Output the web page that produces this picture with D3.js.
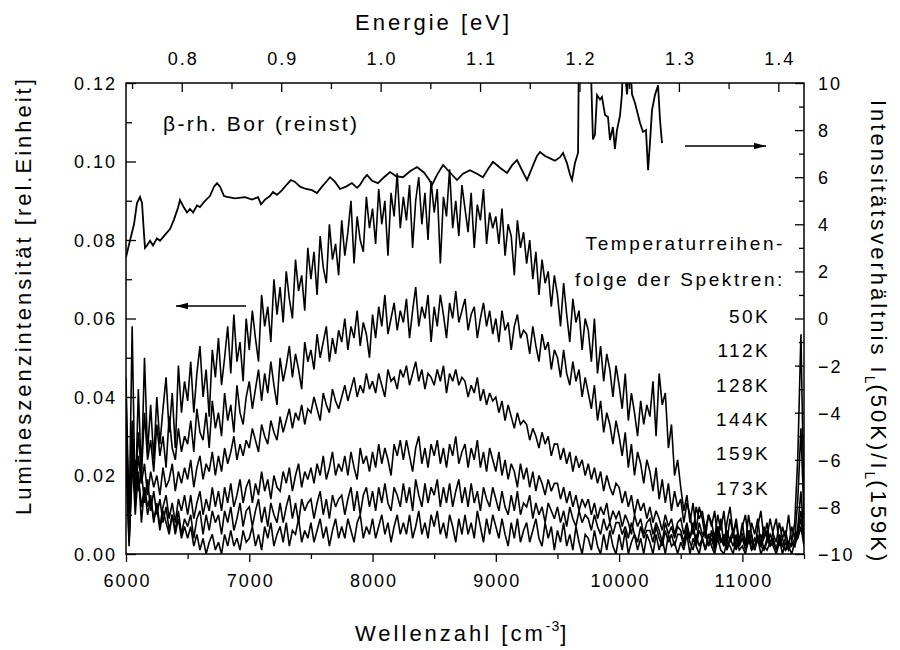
<!DOCTYPE html>
<html><head><meta charset="utf-8">
<script src="https://cdn.jsdelivr.net/npm/d3@7"></script>
<style>
body{margin:0;background:#fff}
svg{display:block}
text{font-family:"Liberation Sans",Arial,Helvetica,sans-serif;fill:#000}
</style>
</head><body>
<svg id="chart" width="900" height="650"></svg>
<script>
// ---------------- DATA ----------------
// wavenumber grid of the spectra (cm^-1): 6000, 6025, ... 11500
const gridStart = 6000, gridStep = 25;

const spec50K = [
.045,.008,.058,.012,.042,.020,.050,.026,.038,.024,
.040,.028,.037,.045,.031,.041,.027,.048,.036,.044,
.039,.049,.036,.046,.053,.040,.047,.035,.052,.045,
.055,.043,.050,.058,.046,.061,.049,.054,.044,.060,
.052,.062,.055,.049,.066,.058,.063,.054,.070,.061,
.068,.059,.072,.065,.060,.075,.067,.071,.062,.078,
.070,.077,.066,.081,.073,.069,.084,.075,.079,.071,
.085,.076,.082,.090,.074,.086,.080,.077,.091,.083,
.088,.079,.093,.084,.090,.076,.092,.086,.097,.083,
.091,.085,.094,.078,.090,.096,.084,.092,.080,.095,
.087,.093,.074,.091,.086,.098,.083,.090,.081,.094,
.088,.082,.092,.078,.089,.085,.093,.079,.087,.083,
.086,.079,.088,.076,.084,.081,.071,.085,.078,.082,
.074,.080,.070,.077,.066,.075,.069,.072,.063,.071,
.066,.058,.069,.061,.054,.065,.059,.062,.052,.060,
.057,.049,.060,.046,.053,.044,.051,.047,.040,.048,
.043,.037,.046,.034,.041,.036,.030,.039,.033,.038,
.035,.044,.030,.046,.038,.041,.027,.033,.020,.024,
.017,.011,.015,.008,.013,.006,.012,.009,.004,.010,
.007,.011,.004,.009,.002,.008,.012,.005,.009,.003,
.008,.002,.010,.005,.001,.007,.011,.004,.008,.002,
.006,.009,.002,.007,.004,.010,.003,.008,.025,.056,
.012];

const spec112K = [
.040,.006,.034,.016,.031,.020,.036,.024,.029,.021,
.033,.025,.030,.022,.035,.027,.024,.032,.026,.030,
.028,.034,.026,.037,.031,.029,.036,.027,.039,.032,
.036,.030,.041,.034,.038,.031,.043,.036,.033,.040,
.044,.037,.042,.047,.039,.046,.041,.049,.043,.038,
.050,.044,.048,.053,.045,.051,.047,.042,.054,.049,
.052,.047,.056,.050,.054,.058,.049,.055,.051,.057,
.054,.060,.052,.058,.055,.062,.053,.059,.056,.050,
.061,.055,.063,.058,.066,.056,.060,.064,.057,.062,
.059,.065,.055,.062,.068,.058,.063,.060,.066,.054,
.063,.058,.066,.061,.055,.064,.060,.067,.059,.062,
.065,.057,.061,.063,.055,.060,.064,.058,.062,.056,
.060,.054,.062,.057,.059,.052,.058,.061,.055,.057,
.056,.051,.058,.053,.049,.056,.052,.054,.047,.052,
.050,.045,.052,.046,.043,.049,.044,.047,.040,.045,
.041,.037,.043,.034,.039,.031,.036,.033,.028,.034,
.030,.025,.031,.022,.028,.020,.026,.023,.018,.024,
.021,.016,.022,.014,.019,.013,.018,.011,.016,.012,
.014,.008,.013,.010,.005,.012,.009,.011,.006,.010,
.008,.004,.010,.006,.011,.003,.009,.005,.008,.002,
.007,.010,.003,.008,.005,.009,.002,.007,.004,.009,
.005,.003,.008,.004,.006,.002,.007,.004,.014,.032,
.009];

const spec128K = [
.035,.010,.028,.014,.025,.018,.023,.015,.021,.017,
.020,.015,.022,.017,.019,.023,.016,.021,.018,.022,
.019,.024,.017,.022,.025,.019,.023,.021,.026,.020,
.025,.021,.027,.023,.026,.030,.024,.028,.025,.029,
.027,.032,.029,.026,.033,.030,.028,.034,.031,.029,
.035,.031,.034,.037,.032,.036,.034,.038,.033,.037,
.036,.040,.037,.034,.041,.038,.036,.042,.039,.037,
.040,.043,.039,.042,.045,.040,.043,.041,.046,.042,
.044,.041,.046,.043,.040,.047,.044,.045,.042,.047,
.045,.048,.043,.046,.049,.044,.047,.042,.046,.045,
.043,.047,.044,.048,.041,.046,.044,.047,.043,.045,
.044,.040,.043,.041,.045,.039,.042,.038,.041,.039,
.040,.036,.039,.034,.038,.035,.032,.036,.033,.034,
.033,.029,.032,.030,.027,.031,.028,.030,.025,.028,
.028,.024,.027,.023,.026,.021,.025,.022,.024,.020,
.023,.019,.022,.018,.021,.016,.020,.017,.015,.018,
.017,.013,.016,.012,.015,.010,.014,.011,.013,.009,
.012,.008,.011,.009,.006,.010,.007,.009,.005,.008,
.009,.005,.008,.004,.007,.003,.008,.005,.006,.002,
.006,.003,.007,.004,.002,.006,.003,.005,.001,.004,
.005,.002,.006,.003,.001,.005,.002,.004,.006,.003,
.004,.001,.005,.002,.004,.001,.003,.002,.007,.016,
.004];

const spec144K = [
.030,.004,.026,.010,.021,.008,.017,.012,.015,.008,
.013,.007,.012,.015,.009,.013,.008,.014,.011,.015,
.010,.015,.009,.013,.016,.010,.014,.011,.017,.012,
.016,.011,.017,.013,.018,.012,.015,.019,.013,.017,
.019,.013,.018,.015,.021,.016,.019,.014,.020,.017,
.016,.021,.018,.022,.016,.020,.023,.017,.021,.019,
.022,.018,.023,.020,.025,.019,.022,.026,.020,.023,
.021,.025,.020,.026,.022,.019,.027,.023,.025,.021,
.026,.022,.028,.023,.027,.024,.020,.028,.025,.029,
.024,.029,.025,.021,.027,.030,.023,.027,.022,.028,
.025,.029,.023,.027,.022,.028,.025,.030,.023,.026,
.028,.022,.027,.024,.029,.022,.026,.021,.027,.024,
.021,.026,.020,.024,.019,.023,.021,.017,.023,.019,
.022,.017,.021,.016,.020,.018,.015,.019,.016,.018,
.018,.014,.017,.013,.016,.012,.015,.011,.014,.012,
.014,.010,.013,.009,.012,.010,.013,.008,.011,.009,
.011,.007,.010,.008,.005,.010,.007,.009,.005,.008,
.009,.005,.008,.006,.003,.008,.005,.007,.004,.007,
.006,.003,.007,.004,.008,.002,.006,.004,.001,.005,
.005,.002,.007,.003,.005,.001,.004,.006,.002,.004,
.004,.002,.006,.001,.004,.003,.005,.001,.003,.005,
.003,.001,.004,.002,.001,.003,.002,.004,.006,.011,
.004];

const spec159K = [
.028,.003,.023,.015,.020,.012,.017,.010,.014,.009,
.012,.006,.011,.008,.005,.010,.006,.011,.005,.009,
.007,.010,.004,.009,.011,.005,.010,.006,.011,.008,
.010,.005,.011,.008,.012,.006,.009,.013,.007,.011,
.012,.007,.011,.014,.008,.012,.007,.013,.010,.008,
.013,.008,.012,.015,.009,.013,.008,.014,.011,.013,
.014,.009,.013,.016,.010,.014,.009,.015,.012,.014,
.015,.010,.014,.017,.011,.016,.010,.015,.017,.012,
.016,.011,.017,.013,.018,.013,.011,.017,.015,.012,
.018,.013,.017,.011,.019,.015,.012,.018,.013,.017,
.015,.019,.012,.017,.013,.018,.012,.016,.019,.013,
.017,.012,.018,.013,.016,.011,.017,.014,.012,.017,
.014,.011,.016,.012,.010,.015,.011,.016,.010,.013,
.012,.015,.009,.013,.010,.012,.008,.013,.011,.009,
.012,.008,.011,.007,.012,.009,.007,.011,.008,.010,
.009,.006,.010,.007,.005,.009,.006,.008,.005,.008,
.008,.005,.007,.004,.008,.005,.003,.007,.004,.006,
.006,.003,.007,.004,.002,.006,.003,.005,.002,.005,
.005,.002,.006,.003,.001,.005,.002,.004,.006,.002,
.004,.001,.005,.003,.004,.001,.004,.002,.005,.002,
.004,.001,.003,.005,.001,.004,.002,.001,.004,.002,
.003,.001,.004,.000,.003,.001,.003,.002,.005,.009,
.003];

const spec173K = [
.025,.002,.021,.024,.016,.021,.013,.019,.011,.016,
.010,.014,.008,.012,.006,.010,.005,.009,.004,.007,
.004,.007,.002,.005,.001,.004,.000,.003,.005,.001,
.003,.000,.005,.002,.006,.002,.004,.001,.006,.003,
.004,.007,.002,.005,.001,.007,.004,.008,.002,.005,
.007,.003,.008,.002,.006,.005,.009,.003,.006,.004,
.008,.003,.006,.009,.004,.007,.002,.006,.009,.004,
.007,.004,.009,.006,.003,.008,.010,.004,.007,.005,
.009,.004,.007,.010,.005,.008,.003,.007,.010,.005,
.008,.005,.010,.004,.007,.011,.005,.008,.004,.010,
.007,.011,.005,.008,.004,.010,.007,.003,.009,.005,
.010,.005,.008,.004,.011,.007,.003,.009,.005,.010,
.007,.004,.009,.005,.002,.008,.004,.009,.003,.006,
.008,.003,.006,.009,.004,.002,.008,.004,.007,.001,
.006,.003,.008,.002,.005,.001,.007,.003,.000,.005,
.004,.001,.006,.002,.000,.005,.001,.006,.002,.000,
.005,.001,.006,.000,.003,.005,.001,.004,.000,.005,
.003,.000,.005,.001,.004,.000,.005,.002,.003,.000,
.003,.001,.005,.000,.004,.002,.000,.004,.001,.005,
.002,.000,.004,.001,.000,.003,.002,.000,.004,.001,
.002,.000,.004,.001,.002,.004,.000,.002,.001,.003,
.002,.000,.003,.004,.001,.002,.000,.003,.004,.007,
.002];

const spectraNames = ["50K","112K","128K","144K","159K","173K"];

// intensity ratio I_L(50K)/I_L(159K) (right axis)
const ratioWave = [6000,6032,6065,6089,6114,6130,6146,6154,6170,6195,6219,6251,6276,6316,6357,6389,6422,6438,6471,6495,6519,6544,6576,6600,6641,6681,6714,6738,6763,6795,6820,6884,6965,7022,7071,7095,7128,7168,7192,7225,7266,7306,7338,7371,7412,7460,7509,7549,7590,7631,7655,7696,7736,7785,7833,7874,7898,7931,7955,7996,8044,8093,8142,8190,8247,8304,8361,8417,8458,8482,8523,8572,8628,8685,8734,8790,8847,8896,8937,8977,9034,9091,9131,9172,9212,9253,9302,9334,9359,9399,9440,9480,9521,9545,9577,9602,9618,9642,9667,9675,9764,9780,9788,9804,9821,9845,9861,9886,9910,9926,9950,9966,9983,10007,10023,10032,10048,10064,10088,10105,10129,10170,10194,10218,10235,10251,10267,10291,10316,10332,10348];
const ratioValue = [2.6,3.3,4.0,4.9,5.16,4.9,3.6,3.0,3.1,3.3,3.1,3.4,3.3,3.55,3.8,4.2,4.7,5.03,4.7,4.5,4.65,4.5,4.8,4.73,5.0,5.2,5.6,5.75,5.6,5.2,5.16,5.1,5.15,5.05,5.15,4.85,5.05,5.2,5.37,5.25,5.45,5.7,5.88,5.8,5.6,5.5,5.45,5.33,5.6,5.85,6.0,5.8,5.5,5.6,5.75,5.55,5.67,5.95,6.1,5.85,5.75,6.0,6.22,6.05,6.0,6.25,6.43,6.2,5.9,5.67,6.1,6.52,6.2,5.88,6.15,6.3,6.15,6.0,6.35,6.65,6.4,6.18,6.5,6.73,6.3,5.88,6.5,6.9,7.07,6.9,6.8,6.7,6.85,7.03,6.6,6.1,5.88,6.6,7.03,12,12,9.0,7.6,7.8,9.49,9.3,9.41,8.64,8.56,7.58,8.13,7.2,8.0,8.6,9.52,11,10.5,9.52,11,9.52,9.15,8.3,7.92,8.0,6.3,7.5,8.85,9.49,9.9,8.43,7.45];

// axis ticks
const waveTicks = [6000,7000,8000,9000,10000,11000];
const waveMinor = [6500,7500,8500,9500,10500,11500];
const intensityTicks = [0.00,0.02,0.04,0.06,0.08,0.10,0.12];
const intensityMinor = [0.01,0.03,0.05,0.07,0.09,0.11];
const ratioTicks = [-10,-8,-6,-4,-2,0,2,4,6,8,10];
const ratioMinor = [-9,-7,-5,-3,-1,1,3,5,7,9];
const energyTicks = [0.8,0.9,1.0,1.1,1.2,1.3,1.4];
const energyMinor = [0.75,0.85,0.95,1.05,1.15,1.25,1.35];
const cmPerEV = 8065.54;

// ---------------- CHART ----------------
const svg = d3.select("#chart");
const L = 126, R = 804, T = 83, B = 554;

const x = d3.scaleLinear().domain([6000, 11500]).range([L, R]);
const yL = d3.scaleLinear().domain([0, 0.12]).range([B, T]);
const yR = d3.scaleLinear().domain([-10, 10]).range([B, T]);
const xE = d3.scaleLinear().domain([6000 / cmPerEV, 11500 / cmPerEV]).range([L, R]);

svg.append("defs").append("clipPath").attr("id", "plotclip")
  .append("rect").attr("x", L).attr("y", T).attr("width", R - L).attr("height", B - T);

const plot = svg.append("g").attr("clip-path", "url(#plotclip)");

const specLine = d3.line()
  .x((d, i) => x(gridStart + i * gridStep))
  .y(d => yL(d));

const spectra = [spec50K, spec112K, spec128K, spec144K, spec159K, spec173K];
plot.selectAll("path.spec").data(spectra).join("path")
  .attr("class", "spec")
  .attr("d", specLine)
  .attr("fill", "none").attr("stroke", "#000").attr("stroke-width", 1.6)
  .attr("stroke-linejoin", "miter").attr("stroke-miterlimit", 3);

const ratioLine = d3.line()
  .x((d, i) => x(ratioWave[i]))
  .y(d => yR(d));
plot.append("path").datum(ratioValue)
  .attr("d", ratioLine)
  .attr("fill", "none").attr("stroke", "#000").attr("stroke-width", 1.8);

// frame
svg.append("rect").attr("x", L).attr("y", T).attr("width", R - L).attr("height", B - T)
  .attr("fill", "none").attr("stroke", "#000").attr("stroke-width", 1.5);

function styleAxis(g) {
  g.select(".domain").remove();
  g.selectAll(".tick line").attr("stroke", "#000").attr("stroke-width", 1.3);
  g.selectAll("text").style("font-size", "18px").style("letter-spacing", "2px").attr("fill", "#000");
}

// bottom axis
const gb = svg.append("g").attr("transform", `translate(0,${B})`)
  .call(d3.axisBottom(x).tickValues(waveTicks).tickFormat(d3.format("d")).tickSizeInner(8).tickSizeOuter(0));
styleAxis(gb);
gb.selectAll("text").attr("y", 33).attr("dy", 0).attr("dx", 1);
svg.append("g").attr("transform", `translate(0,${B})`)
  .call(d3.axisBottom(x).tickValues(waveMinor).tickFormat("").tickSizeInner(5).tickSizeOuter(0))
  .call(styleAxis);

// top axis (energy)
const gt = svg.append("g").attr("transform", `translate(0,${T})`)
  .call(d3.axisTop(xE).tickValues(energyTicks).tickFormat(d3.format(".1f")).tickSizeInner(-9).tickSizeOuter(0));
styleAxis(gt);
gt.selectAll("text").attr("y", -18).attr("dy", 0).attr("dx", 1);
svg.append("g").attr("transform", `translate(0,${T})`)
  .call(d3.axisTop(xE).tickValues(energyMinor).tickFormat("").tickSizeInner(-6).tickSizeOuter(0))
  .call(styleAxis);

// left axis
const gl = svg.append("g").attr("transform", `translate(${L},0)`)
  .call(d3.axisLeft(yL).tickValues(intensityTicks).tickFormat(d3.format(".2f")).tickSizeInner(-10).tickSizeOuter(0));
styleAxis(gl);
gl.selectAll("text").attr("x", -9).attr("dy", "0.36em");
svg.append("g").attr("transform", `translate(${L},0)`)
  .call(d3.axisLeft(yL).tickValues(intensityMinor).tickFormat("").tickSizeInner(-6).tickSizeOuter(0))
  .call(styleAxis);

// right axis
const gr = svg.append("g").attr("transform", `translate(${R},0)`)
  .call(d3.axisRight(yR).tickValues(ratioTicks).tickFormat(d3.format("d")).tickSizeInner(-9).tickSizeOuter(0));
styleAxis(gr);
gr.selectAll("text").attr("x", 14).attr("dy", "0.36em");
svg.append("g").attr("transform", `translate(${R},0)`)
  .call(d3.axisRight(yR).tickValues(ratioMinor).tickFormat("").tickSizeInner(-5).tickSizeOuter(0))
  .call(styleAxis);

// axis titles
const titleStyle = t => t.style("font-size", "22px").style("letter-spacing", "3px");
svg.append("text").attr("x", 355).attr("y", 30).text("Energie [eV]").call(titleStyle);

const bt = svg.append("text").attr("x", 355).attr("y", 641).call(titleStyle);
bt.append("tspan").text("Wellenzahl [cm");
bt.append("tspan").attr("dy", -10).style("font-size", "14px").style("letter-spacing", "1px").text("-3");
bt.append("tspan").attr("dy", 10).text("]");

svg.append("text").attr("transform", "translate(31,515) rotate(-90)")
  .text("Lumineszenzintensität [rel.Einheit]").call(titleStyle);

const rt = svg.append("text").attr("transform", "translate(871,100) rotate(90)").call(titleStyle);
rt.append("tspan").text("Intensitätsverhältnis I");
rt.append("tspan").attr("dy", 6).style("font-size", "14px").style("letter-spacing", "1px").text("L");
rt.append("tspan").attr("dy", -6).text("(50K)/I");
rt.append("tspan").attr("dy", 6).style("font-size", "14px").style("letter-spacing", "1px").text("L");
rt.append("tspan").attr("dy", -6).text("(159K)");

// annotation texts
svg.append("text").attr("x", 163).attr("y", 131).style("font-size", "21px").style("letter-spacing", "2.4px")
  .text("β-rh. Bor (reinst)");

const legendHead = ["Temperaturreihen-", "folge der Spektren:"];
svg.selectAll("text.lh").data(legendHead).join("text").attr("class", "lh")
  .attr("x", 785).attr("y", (d, i) => 250 + i * 36)
  .attr("text-anchor", "end").style("font-size", "19px").style("letter-spacing", "2.6px")
  .text(d => d);

svg.selectAll("text.lt").data(spectraNames).join("text").attr("class", "lt")
  .attr("x", 770).attr("y", (d, i) => 323 + i * 34.3)
  .attr("text-anchor", "end").style("font-size", "19px").style("letter-spacing", "2.4px")
  .text(d => d);

// arrows
const defs = svg.select("defs");
defs.append("marker").attr("id", "ah").attr("viewBox", "0 0 12 8").attr("refX", 12).attr("refY", 4)
  .attr("markerWidth", 12).attr("markerHeight", 8).attr("markerUnits", "userSpaceOnUse").attr("orient", "auto")
  .append("path").attr("d", "M0,0.8 L12,4 L0,7.2 Z").attr("fill", "#000");

svg.append("line").attr("x1", 246).attr("y1", 306).attr("x2", 176).attr("y2", 306)
  .attr("stroke", "#000").attr("stroke-width", 1.5).attr("marker-end", "url(#ah)");
svg.append("line").attr("x1", 685).attr("y1", 146).attr("x2", 766).attr("y2", 146)
  .attr("stroke", "#000").attr("stroke-width", 1.5).attr("marker-end", "url(#ah)");
</script>
</body></html>
